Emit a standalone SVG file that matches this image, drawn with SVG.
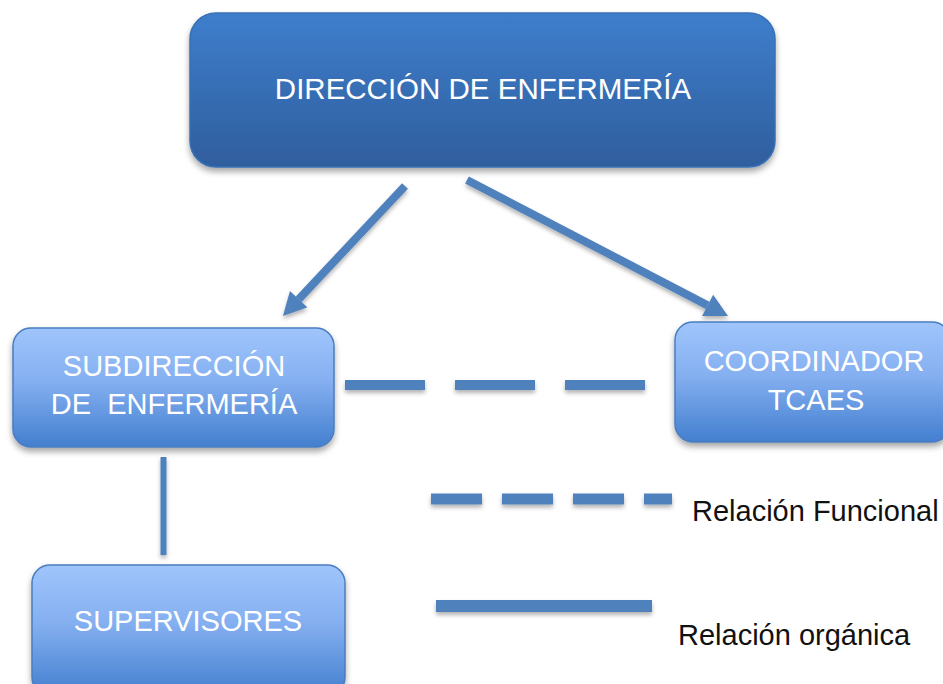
<svg xmlns="http://www.w3.org/2000/svg" width="943" height="684" viewBox="0 0 943 684">
  <defs>
    <linearGradient id="gDark" x1="0" y1="0" x2="0" y2="1">
      <stop offset="0" stop-color="#3e7ecc"/>
      <stop offset="1" stop-color="#2f5e9d"/>
    </linearGradient>
    <linearGradient id="gLight" x1="0" y1="0" x2="0" y2="1">
      <stop offset="0" stop-color="#a0c5fc"/>
      <stop offset="0.45" stop-color="#84aff0"/>
      <stop offset="1" stop-color="#437fcf"/>
    </linearGradient>
    <filter id="sh" x="-10%" y="-10%" width="120%" height="130%">
      <feDropShadow dx="0" dy="4" stdDeviation="3" flood-color="#000" flood-opacity="0.35"/>
    </filter>
    <filter id="shl" filterUnits="userSpaceOnUse" x="0" y="0" width="943" height="684">
      <feDropShadow dx="0" dy="3" stdDeviation="2" flood-color="#000" flood-opacity="0.3"/>
    </filter>
    <marker id="ah" markerUnits="userSpaceOnUse" markerWidth="24" markerHeight="24" viewBox="0 0 23 24" refX="0" refY="12" orient="auto">
      <path d="M0,0 L23,12 L0,24 Z" fill="#4f81bd"/>
    </marker>
  </defs>
  <style>
    .box-dark { fill: url(#gDark); stroke: #3a70b5; stroke-width: 1.5; filter: url(#sh); }
    .box-light { fill: url(#gLight); stroke: #4a7dbf; stroke-width: 1.5; filter: url(#sh); }
    .lbl { font-family: "Liberation Sans", Arial, sans-serif; font-size: 29px; fill: #ffffff; text-anchor: middle; white-space: pre; }
    .leg { font-family: "Liberation Sans", Arial, sans-serif; font-size: 29px; fill: #111111; }
    .conn { stroke: #4f81bd; fill: none; filter: url(#shl); }
  </style>
  <rect width="943" height="684" fill="#ffffff"/>

  <g id="connectors">
    <line class="conn" x1="405" y1="186" x2="298.7" y2="299.2" stroke-width="8" marker-end="url(#ah)"/>
    <line class="conn" x1="467" y1="180" x2="707.6" y2="305.4" stroke-width="8" marker-end="url(#ah)"/>
    <line class="conn" x1="345" y1="385" x2="645" y2="385" stroke-width="10" stroke-dasharray="80 30"/>
    <line class="conn" x1="163.5" y1="457" x2="163.5" y2="555" stroke-width="6"/>
  </g>

  <g id="legend">
    <line class="conn" x1="431" y1="499" x2="672" y2="499" stroke-width="11" stroke-dasharray="51 20"/>
    <line class="conn" x1="436" y1="606" x2="652" y2="606" stroke-width="12"/>
    <text class="leg" x="692" y="521">Relación Funcional</text>
    <text class="leg" x="678" y="645">Relación orgánica</text>
  </g>

  <g id="direccion">
    <rect class="box-dark" x="190" y="13" width="585" height="154" rx="26" ry="26"/>
    <text class="lbl" x="483" y="99" style="font-size:29.5px">DIRECCIÓN DE ENFERMERÍA</text>
  </g>

  <g id="subdireccion">
    <rect class="box-light" x="13" y="328" width="321" height="119" rx="18" ry="18"/>
    <text class="lbl" x="174" y="376">SUBDIRECCIÓN</text>
    <text class="lbl" x="174" y="414">DE  ENFERMERÍA</text>
  </g>

  <g id="coordinador">
    <rect class="box-light" x="675" y="322" width="275" height="120" rx="18" ry="18"/>
    <text class="lbl" x="814" y="371">COORDINADOR</text>
    <text class="lbl" x="816" y="410">TCAES</text>
  </g>

  <g id="supervisores">
    <rect class="box-light" x="32" y="565" width="313" height="130" rx="18" ry="18"/>
    <text class="lbl" x="188" y="631">SUPERVISORES</text>
  </g>
</svg>
